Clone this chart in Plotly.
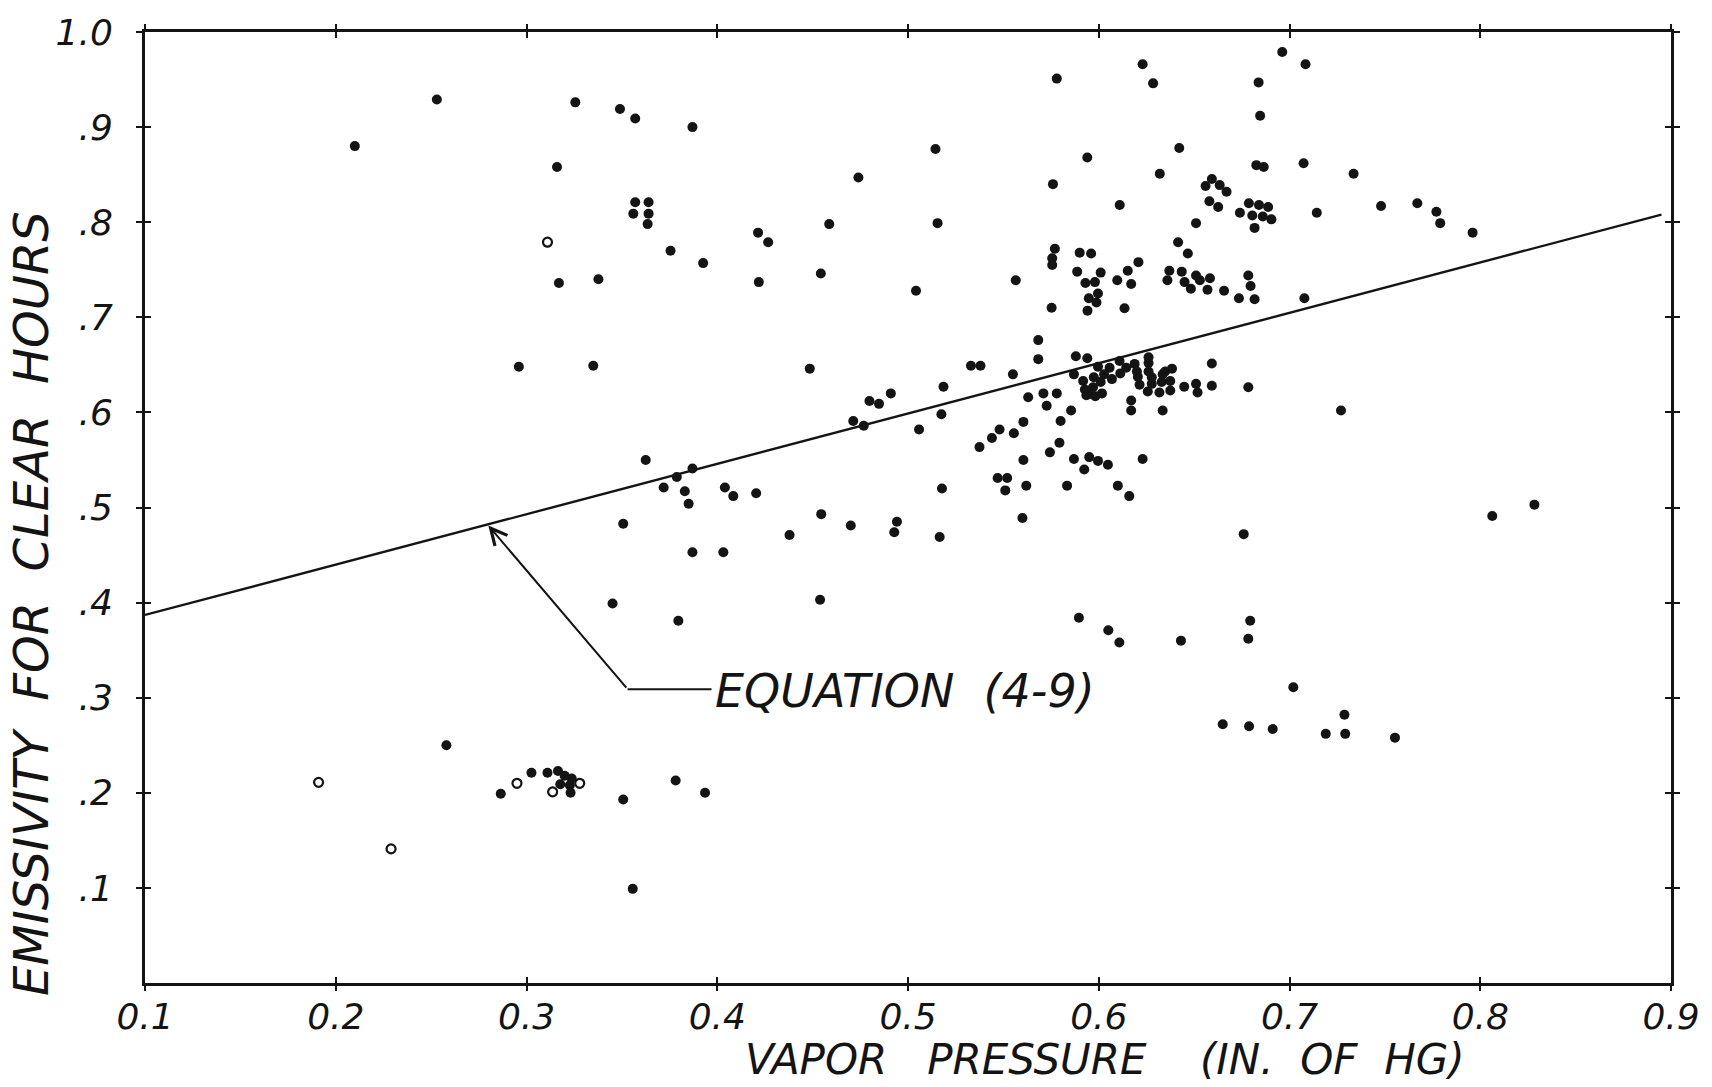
import plotly.graph_objects as go

# Clear-hour observations: vapor pressure (in. of Hg) vs. emissivity
vapor_pressure = [
    0.210, 0.253, 0.258, 0.2865, 0.3026, 0.311, 0.3165, 0.320, 0.3237, 0.3177,
    0.3227, 0.3231, 0.296, 0.3256, 0.316, 0.317, 0.335, 0.3377, 0.349, 0.357,
    0.387, 0.357, 0.364, 0.356, 0.364, 0.3635, 0.3755, 0.3926, 0.4214, 0.4267,
    0.4218, 0.4543, 0.4587, 0.474, 0.5144, 0.5155, 0.5042, 0.3625, 0.3788, 0.387,
    0.3719, 0.383, 0.385, 0.404, 0.4084, 0.4204, 0.4485, 0.4545, 0.3507, 0.470,
    0.4379, 0.4942, 0.4928, 0.5166, 0.387, 0.4032, 0.3451, 0.3796, 0.4539, 0.3782,
    0.3936, 0.3507, 0.3557, 0.4713, 0.4768, 0.4798, 0.4848, 0.491, 0.5186, 0.5175,
    0.5058, 0.5178, 0.533, 0.538, 0.555, 0.5683, 0.5683, 0.563, 0.571, 0.578,
    0.5727, 0.5855, 0.5605, 0.580, 0.548, 0.544, 0.5555, 0.5375, 0.5744, 0.5794,
    0.5605, 0.587, 0.595, 0.5996, 0.6048, 0.5924, 0.623, 0.547, 0.552, 0.551,
    0.562, 0.5834, 0.610, 0.616, 0.560, 0.5896, 0.605, 0.6108, 0.6431, 0.6784,
    0.6794, 0.676, 0.702, 0.665, 0.6788, 0.6912, 0.719, 0.7288, 0.7292, 0.7553,
    0.727, 0.8063, 0.8284, 0.576, 0.578, 0.594, 0.623, 0.6285, 0.6838, 0.6962,
    0.7084, 0.6846, 0.6422, 0.632, 0.6826, 0.6865, 0.7074, 0.7336, 0.611, 0.6593,
    0.656, 0.6634, 0.667, 0.658, 0.6626, 0.674, 0.6787, 0.684, 0.6888, 0.6805,
    0.686, 0.6905, 0.6817, 0.651, 0.7143, 0.748, 0.767, 0.777, 0.779, 0.796,
    0.6416, 0.6467, 0.5565, 0.577, 0.5756, 0.5756, 0.590, 0.596, 0.5887, 0.601,
    0.593, 0.598, 0.5996, 0.5948, 0.5988, 0.5941, 0.5753, 0.6208, 0.6152, 0.6097,
    0.617, 0.6135, 0.637, 0.636, 0.6435, 0.645, 0.651, 0.653, 0.6583, 0.6483,
    0.657, 0.6657, 0.6735, 0.6817, 0.6784, 0.6796, 0.7078, 0.588, 0.594, 0.587,
    0.5918, 0.5974, 0.5996, 0.601, 0.6028, 0.6057, 0.6069, 0.6109, 0.6113, 0.6144,
    0.6188, 0.620, 0.6205, 0.6261, 0.6261, 0.6261, 0.6214, 0.6278, 0.6278, 0.6335,
    0.6348, 0.633, 0.6375, 0.6384, 0.6257, 0.6318, 0.6375, 0.6448, 0.651, 0.6518,
    0.6593, 0.6593, 0.6784, 0.5927, 0.5948, 0.5982, 0.597, 0.6017, 0.5935, 0.617,
    0.617, 0.6335,
]
emissivity = [
    0.880, 0.929, 0.250, 0.199, 0.221, 0.221, 0.223, 0.218, 0.215, 0.209,
    0.208, 0.200, 0.648, 0.926, 0.858, 0.736, 0.649, 0.740, 0.919, 0.909,
    0.900, 0.821, 0.821, 0.809, 0.809, 0.798, 0.770, 0.757, 0.789, 0.779,
    0.737, 0.746, 0.798, 0.847, 0.877, 0.799, 0.728, 0.550, 0.532, 0.541,
    0.521, 0.517, 0.504, 0.521, 0.512, 0.515, 0.646, 0.493, 0.483, 0.481,
    0.471, 0.485, 0.474, 0.469, 0.453, 0.453, 0.399, 0.381, 0.403, 0.213,
    0.200, 0.193, 0.099, 0.591, 0.586, 0.612, 0.609, 0.620, 0.627, 0.598,
    0.582, 0.520, 0.649, 0.649, 0.640, 0.676, 0.656, 0.616, 0.620, 0.620,
    0.607, 0.602, 0.590, 0.591, 0.582, 0.573, 0.578, 0.5635, 0.558, 0.568,
    0.550, 0.551, 0.553, 0.549, 0.545, 0.540, 0.551, 0.531, 0.531, 0.518,
    0.523, 0.523, 0.523, 0.512, 0.489, 0.384, 0.371, 0.358, 0.360, 0.362,
    0.381, 0.472, 0.311, 0.272, 0.270, 0.267, 0.262, 0.282, 0.262, 0.258,
    0.602, 0.491, 0.503, 0.840, 0.951, 0.868, 0.966, 0.946, 0.947, 0.979,
    0.966, 0.912, 0.878, 0.851, 0.860, 0.858, 0.862, 0.851, 0.818, 0.8455,
    0.838, 0.839, 0.832, 0.822, 0.816, 0.810, 0.820, 0.818, 0.816, 0.807,
    0.806, 0.803, 0.794, 0.799, 0.810, 0.817, 0.820, 0.811, 0.799, 0.789,
    0.779, 0.767, 0.739, 0.772, 0.762, 0.755, 0.768, 0.767, 0.748, 0.747,
    0.736, 0.737, 0.725, 0.720, 0.7155, 0.707, 0.710, 0.758, 0.749, 0.739,
    0.735, 0.7095, 0.749, 0.739, 0.748, 0.737, 0.744, 0.739, 0.741, 0.730,
    0.729, 0.728, 0.720, 0.719, 0.744, 0.733, 0.720, 0.659, 0.657, 0.640,
    0.633, 0.637, 0.648, 0.632, 0.640, 0.647, 0.635, 0.654, 0.641, 0.647,
    0.651, 0.643, 0.6375, 0.658, 0.652, 0.643, 0.629, 0.637, 0.630, 0.640,
    0.643, 0.632, 0.633, 0.646, 0.622, 0.621, 0.623, 0.627, 0.630, 0.621,
    0.628, 0.6515, 0.6265, 0.624, 0.619, 0.617, 0.6265, 0.620, 0.618, 0.6126,
    0.602, 0.602,
]

# Observations drawn as open rings
ring_vapor_pressure = [0.229, 0.191, 0.295, 0.3137, 0.3279, 0.311]
ring_emissivity = [0.141, 0.211, 0.210, 0.201, 0.210, 0.779]

# Equation (4-9) across the plotted range
equation_vapor_pressure = [0.1, 0.895]
equation_emissivity = [0.387, 0.808]

# Axis ticks
x_tick_values = [0.1, 0.2, 0.3, 0.4, 0.5, 0.6, 0.7, 0.8, 0.9]
x_tick_labels = ["0.1", "0.2", "0.3", "0.4", "0.5", "0.6", "0.7", "0.8", "0.9"]
y_tick_values = [0.1, 0.2, 0.3, 0.4, 0.5, 0.6, 0.7, 0.8, 0.9, 1.0]
y_tick_labels = [".1", ".2", ".3", ".4", ".5", ".6", ".7", ".8", ".9", "1.0"]

INK = "#141414"
FONT = "DejaVu Sans"

fig = go.Figure()

fig.add_trace(go.Scatter(
    x=equation_vapor_pressure, y=equation_emissivity, mode="lines",
    line=dict(color=INK, width=2.4), showlegend=False, hoverinfo="skip",
))
fig.add_trace(go.Scatter(
    x=vapor_pressure, y=emissivity, mode="markers",
    marker=dict(size=10, color=INK, line=dict(width=0)),
    showlegend=False,
))
fig.add_trace(go.Scatter(
    x=ring_vapor_pressure, y=ring_emissivity, mode="markers",
    marker=dict(size=9, color="white", line=dict(width=2.2, color=INK)),
    showlegend=False,
))
# carrier for the second axis pair that adds the inner half of each cross tick
fig.add_trace(go.Scatter(x=[None], y=[None], xaxis="x2", yaxis="y2",
                         showlegend=False, hoverinfo="skip"))

tick_font = dict(family=FONT, size=36, color=INK, style="italic")

fig.update_layout(
    width=1712, height=1087,
    margin=dict(l=145, r=34, t=23, b=104, pad=0),
    paper_bgcolor="white", plot_bgcolor="white",
    xaxis=dict(
        range=[0.1, 0.9], showgrid=False, zeroline=False,
        showline=True, linewidth=3, linecolor=INK, mirror="ticks",
        ticks="outside", ticklen=5, tickwidth=2, tickcolor=INK,
        tickvals=x_tick_values, ticktext=x_tick_labels,
        tickfont=tick_font, ticklabelstandoff=-5,
    ),
    yaxis=dict(
        range=[0, 1.0], showgrid=False, zeroline=False,
        showline=True, linewidth=3, linecolor=INK, mirror="ticks",
        ticks="outside", ticklen=6, tickwidth=2, tickcolor=INK,
        tickvals=y_tick_values, ticktext=y_tick_labels,
        tickfont=tick_font, ticklabelstandoff=16,
    ),
    xaxis2=dict(
        range=[0.1, 0.9], overlaying="x", anchor="y2", showgrid=False,
        zeroline=False, showline=False, mirror="ticks", ticks="inside",
        ticklen=6, tickwidth=2, tickcolor=INK, tickvals=x_tick_values,
        showticklabels=False,
    ),
    yaxis2=dict(
        range=[0, 1.0], overlaying="y", anchor="x2", showgrid=False,
        zeroline=False, showline=False, mirror="ticks", ticks="inside",
        ticklen=6, tickwidth=2, tickcolor=INK, tickvals=y_tick_values,
        showticklabels=False,
    ),
)

# leader from the label to the equation line
fig.add_annotation(
    x=0.28, y=0.481, ax=0.353, ay=0.309, xref="x", yref="y",
    axref="x", ayref="y", text="", showarrow=True,
    arrowhead=5, arrowsize=1.6, arrowwidth=2, arrowcolor=INK,
    standoff=0, startstandoff=0,
)
fig.add_shape(type="line", x0=0.353, y0=0.309, x1=0.397, y1=0.309,
              xref="x", yref="y", line=dict(color=INK, width=2))
fig.add_annotation(
    x=0.398, y=0.307, xref="x", yref="y", xanchor="left", yanchor="middle",
    text="EQUATION  (4-9)", showarrow=False,
    font=dict(family=FONT, size=46, color=INK, style="italic"),
)

# axis titles
fig.add_annotation(
    x=0.629, y=-0.080, xref="paper", yref="paper", xanchor="center",
    yanchor="middle", text="VAPOR   PRESSURE    (IN.  OF  HG)", showarrow=False,
    font=dict(family=FONT, size=42, color=INK, style="italic"),
)
fig.add_annotation(
    x=-0.075, y=0.399, xref="paper", yref="paper", xanchor="center",
    yanchor="middle", textangle=-90, text="EMISSIVITY  FOR  CLEAR  HOURS",
    showarrow=False,
    font=dict(family=FONT, size=48, color=INK, style="italic"),
)

fig.write_html("out.html")
